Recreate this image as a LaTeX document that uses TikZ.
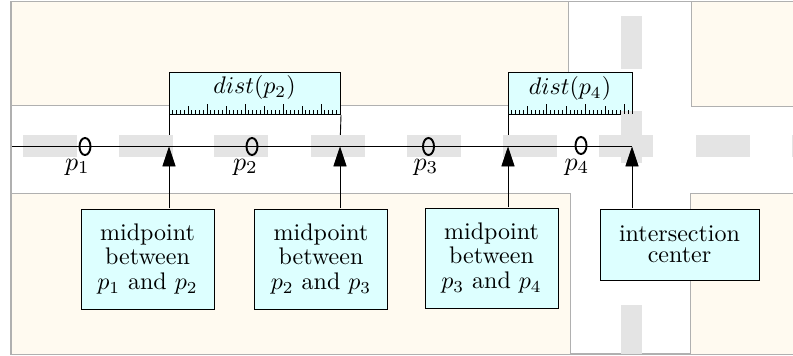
\documentclass[tikz,border=0pt]{standalone}
\usetikzlibrary{arrows.meta,shapes.geometric}
\definecolor{blockc}{HTML}{FFFAF0}
\definecolor{roadc}{HTML}{E4E4E4}
\definecolor{edgec}{HTML}{B0B0B0}
\definecolor{boxc}{HTML}{DDFFFF}
\tikzset{
  block/.style={draw=edgec,fill=blockc,line width=0.45pt},
  infobox/.style={draw=black,fill=boxc,line width=0.42pt,align=center,inner sep=0pt,scale=1.2,font=\fontsize{10}{10.2}\selectfont},
  distbox/.style={infobox,anchor=north west},
  distlabel/.style={font=\fontsize{10}{12}\selectfont,inner sep=0pt,scale=1.2},
  pt/.style={ellipse,draw=black,line width=0.95pt,inner sep=0pt,minimum width=5.5pt,minimum height=8.5pt},
  ptlabel/.style={font=\fontsize{10}{12}\selectfont,inner sep=0pt,scale=1.3},
  lead/.style={line width=0.45pt,draw=black},
  pointer/.style={lead,-{Triangle[length=10pt,width=6.6pt]}}
}
\begin{document}
\begin{tikzpicture}[x=0.5pt,y=-0.5pt]
\useasboundingbox (0,0) rectangle (793,356);
% frame and blocks
\draw[edgec,line width=0.6pt,fill=white] (11,1.5) rectangle (796,354);
\begin{scope}
\clip (0,0) rectangle (793,356);
\draw[block] (11,1.5) rectangle (568,105);
\draw[block] (691,1.5) rectangle (798,106);
\draw[block] (11,193) rectangle (570,354);
\draw[block] (690,193) rectangle (798,354);
\end{scope}
% anchors on the road
\coordinate (m1) at (169,146.5);
\coordinate (m2) at (340,146.5);
\coordinate (m3) at (508,146.5);
\coordinate (m4) at (632,146.5);
% distance boxes
\node[distbox,minimum width=71.25pt,minimum height=17.5pt] (d2) at (169,72) {};
\node[distlabel] (t2) at (254.5,88) {$dist(p_2)$};
\node[distbox,minimum width=51.67pt,minimum height=17.5pt] (d4) at (508,72) {};
\node[distlabel] (t4) at (570,89) {$dist(p_4)$};
\draw[lead] (d2.south west) -- (m1);
\draw[lead] (d2.south east) -- (m2);
\draw[lead] (d4.south west) -- (m3);
\draw[lead] (d4.south east) -- (m4);
% road markings
\foreach \x in {23,118.5,214,311,407,503,599,696}
  \fill[roadc] (\x,135.5) rectangle ++(54,22);
\fill[roadc] (792,135.5) rectangle (793,157.5);
\foreach \y/\h in {16/53,111/52,305/49}
  \fill[roadc] (621,\y) rectangle ++(21,\h);
% ruler ticks
\foreach \bx/\n/\s in {169/45/3.8,508/32/3.875}{
  \foreach \i in {0,...,\n}{
    \pgfmathsetmacro{\tl}{mod(\i,10)==0?10:(mod(\i,5)==0?7.5:4)}
    \draw[line width=0.38pt] ({\bx+\i*\s},114) -- ++(0,-\tl);
  }
}
\draw[line width=0.38pt] (340,114) -- ++(0,-10);
\draw[line width=0.38pt] (632,114) -- ++(0,-10);
% road centre line
\draw[lead] (12,146.5) -- (m4);
% points
\node[pt] (p1) at (85,146.5) {};
\node[pt] (p2) at (252,146.5) {};
\node[pt] (p3) at (428.5,146.5) {};
\node[pt] (p4) at (581,145.5) {};
\node[ptlabel] (l1) at (77.5,167) {$p_1$};
\node[ptlabel] (l2) at (245.5,167) {$p_2$};
\node[ptlabel] (l3) at (426,167) {$p_3$};
\node[ptlabel] (l4) at (577,167) {$p_4$};
% info boxes
\node[infobox,minimum width=55.4pt,minimum height=41.67pt] (b1) at (147.5,259) {midpoint\\between\\$p_1$ and $p_2$};
\node[infobox,minimum width=55.4pt,minimum height=41.67pt] (b2) at (321,259) {midpoint\\between\\$p_2$ and $p_3$};
\node[infobox,minimum width=55.4pt,minimum height=41.67pt] (b3) at (491.5,258) {midpoint\\between\\$p_3$ and $p_4$};
\node[infobox,minimum width=66.25pt,minimum height=29.6pt,font=\fontsize{10}{8.8}\selectfont] (b4) at (679.5,244.5) {intersection\\center};
\draw[pointer] (b1.north -| m1) -- (m1);
\draw[pointer] (b2.north -| m2) -- (m2);
\draw[pointer] (b3.north -| m3) -- (m3);
\draw[pointer] (b4.north -| m4) -- (m4);
\end{tikzpicture}
\end{document}
